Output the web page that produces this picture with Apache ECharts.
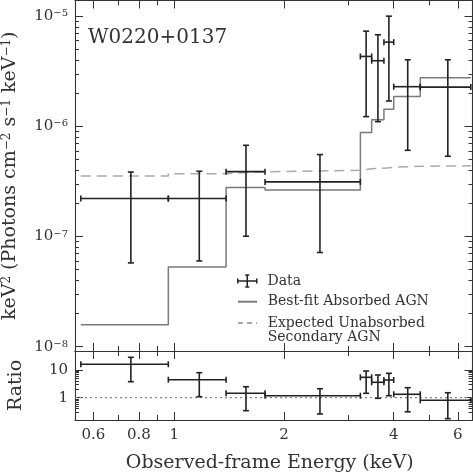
<!DOCTYPE html>
<html><head><meta charset="utf-8">
<script src="https://cdn.jsdelivr.net/npm/echarts@6/dist/echarts.min.js"></script>
<style>html,body{margin:0;padding:0;background:#fff}#c{width:473px;height:474px}</style>
</head><body><div id="c"></div>
<script>
// ---- data (keV, photons cm^-2 s^-1 keV^-1 * keV^2) ----
const binLo   = [0.554, 0.963, 1.387, 1.774, 3.24, 3.48, 3.76, 4.00, 4.73];
const binHi   = [0.963, 1.387, 1.774, 3.24, 3.48, 3.76, 4.00, 4.73, 6.51];
const energy  = [0.760, 1.171, 1.573, 2.51, 3.36, 3.62, 3.88, 4.37, 5.63];
const flux    = [2.21e-7, 2.21e-7, 3.88e-7, 3.13e-7, 4.31e-6, 3.94e-6, 5.81e-6, 2.29e-6, 2.27e-6];
const fluxLo  = [5.76e-8, 6.0e-8, 1.006e-7, 7.16e-8, 1.225e-6, 1.103e-6, 1.70e-6, 6.06e-7, 5.35e-7];
const fluxHi  = [3.85e-7, 3.91e-7, 6.73e-7, 5.54e-7, 7.31e-6, 6.78e-6, 1.0e-5, 4.02e-6, 4.02e-6];
const model   = [1.58e-8, 5.30e-8, 2.78e-7, 2.65e-7, 8.77e-7, 1.15e-6, 1.43e-6, 1.87e-6, 2.76e-6];
const unabs   = [3.54e-7, 3.72e-7, 3.87e-7, 3.99e-7, 4.12e-7, 4.16e-7, 4.25e-7, 4.34e-7, 4.38e-7];
const ratio   = [16.1, 4.47, 1.44, 1.18, 5.45, 3.6, 4.35, 1.33, 0.805];
const ratioLo = [3.78, 1.087, 0.34, 0.258, 1.44, 0.95, 1.18, 0.31, 0.175];
const ratioHi = [28.7, 7.99, 2.49, 2.11, 9.2, 6.6, 7.6, 2.3, 1.51];
const xLabelVals = [0.6, 0.8, 1, 2, 4, 6];
const xMinorVals = [0.7, 0.9, 3, 5];
const fluxDecades = [-8, -7, -6, -5];
const ratioLabelVals = [1, 10];
const xRange = [0.534, 6.58];
const fluxRange = [9.14e-9, 1.387e-5];
const ratioRange = [0.1567, 48.5];

const L = Math.log10;
const FONT = 'DejaVu Serif';
const TXT = '#333';
const AX = '#333';

function minorLogs(lo, hi) {
  const out = [];
  for (let n = Math.floor(L(lo)) - 1; n <= Math.ceil(L(hi)); n++)
    for (let k = 2; k <= 9; k++) { const v = L(k) + n; if (v > L(lo) && v < L(hi)) out.push(v); }
  return out;
}
const fluxMinor = minorLogs(fluxRange[0], fluxRange[1]);
const ratioMinor = minorLogs(0.2, 9.5).filter(v => v <= 1);

function steps(lo, hi, v) {
  const out = [];
  for (let i = 0; i < v.length; i++) { out.push([L(lo[i]), L(v[i])]); out.push([L(hi[i]), L(v[i])]); }
  return out;
}
function errData(c, v, lo, hi) {
  return c.map((e, i) => [L(e), L(v[i]), L(lo[i]), L(hi[i]), L(binLo[i]), L(binHi[i])]);
}
function errRender(params, api) {
  const x = api.value(0), y = api.value(1);
  const c = api.coord([x, y]);
  const top = api.coord([x, api.value(3)]);
  const bot = api.coord([x, api.value(2)]);
  const left = api.coord([api.value(4), y]);
  const right = api.coord([api.value(5), y]);
  const cap = 3;
  const seg = (x1, y1, x2, y2) => ({type: 'line', shape: {x1, y1, x2, y2}, style: {stroke: '#222', lineWidth: 1.6}});
  return {type: 'group', children: [
    seg(left[0], c[1], right[0], c[1]),
    seg(c[0], top[1], c[0], bot[1]),
    seg(c[0] - cap, top[1], c[0] + cap, top[1]),
    seg(c[0] - cap, bot[1], c[0] + cap, bot[1]),
    seg(left[0], c[1] - cap, left[0], c[1] + cap),
    seg(right[0], c[1] - cap, right[0], c[1] + cap)
  ]};
}

const xLog = [L(xRange[0]), L(xRange[1])];
function nearestLabel(v, list) {
  let best = list[0];
  list.forEach(t => { if (Math.abs(L(t) - v) < Math.abs(L(best) - v)) best = t; });
  return String(best);
}
function xAxis(grid, pos, major, showLabel, name) {
  const vals = (major ? xLabelVals : xMinorVals).map(L);
  const a = {
    type: 'value', gridIndex: grid, position: pos, min: xLog[0], max: xLog[1],
    axisLine: {show: major, onZero: false, lineStyle: {color: AX, width: 1.1}},
    axisTick: {show: true, inside: true, length: major ? 8 : 5, customValues: vals, lineStyle: {color: AX, width: 1}},
    axisLabel: {show: showLabel, customValues: vals, margin: 8, fontFamily: FONT, fontSize: 15, color: TXT,
      formatter: v => nearestLabel(v, xLabelVals)},
    splitLine: {show: false}
  };
  if (name) {
    a.name = name; a.nameLocation = 'middle'; a.nameGap = 34;
    a.nameTextStyle = {fontFamily: FONT, fontSize: 19, color: TXT, padding: [0, 8, 0, 0]};
  }
  return a;
}
const fluxLog = [L(fluxRange[0]), L(fluxRange[1])];
const ratioLog = [L(ratioRange[0]), L(ratioRange[1])];
function yAxis(grid, pos, major, showLabel, range, majorVals, minorVals, fmt, name, nameGap) {
  const vals = major ? majorVals : minorVals;
  const a = {
    type: 'value', gridIndex: grid, position: pos, min: range[0], max: range[1],
    axisLine: {show: major, onZero: false, lineStyle: {color: AX, width: 1.1}},
    axisTick: {show: true, inside: true, length: major ? 8 : 4, customValues: vals, lineStyle: {color: AX, width: 1}},
    axisLabel: {show: showLabel, customValues: vals, margin: 7, formatter: fmt,
      fontFamily: FONT, fontSize: 15, color: TXT,
      rich: {b: {fontFamily: FONT, fontSize: 15, color: TXT}, s: {fontFamily: FONT, fontSize: 10, color: TXT, verticalAlign: 'top'}}},
    splitLine: {show: false}
  };
  if (name) {
    a.name = name; a.nameLocation = 'middle'; a.nameGap = nameGap;
    a.nameTextStyle = {fontFamily: FONT, fontSize: 19, color: TXT,
      rich: {n: {fontFamily: FONT, fontSize: 19, color: TXT}, s: {fontFamily: FONT, fontSize: 12, color: TXT, verticalAlign: 'top'}}};
  }
  return a;
}
const fluxFmt = v => '{b|10}{s|\u2212' + Math.abs(Math.round(v)) + '}';
const ratioFmt = v => nearestLabel(v, ratioLabelVals);
const yName = '{n|keV}{s|2}{n| (Photons cm}{s|\u22122}{n| s}{s|\u22121}{n| keV}{s|\u22121}{n|)}';

const legTxt = {fontFamily: FONT, fontSize: 14, color: TXT, padding: [0, 0, 0, 5.7]};
const noSym = {color: 'rgba(0,0,0,0)', borderWidth: 0};

const chart = echarts.init(document.getElementById('c'), null, {renderer: 'canvas'});
chart.setOption({
  animation: false,
  backgroundColor: '#fff',
  title: {text: 'W0220+0137', left: 88, top: 28, padding: 0,
    textStyle: {fontFamily: FONT, fontSize: 20, fontWeight: 'normal', color: TXT}},
  grid: [
    {left: 75, width: 397.5, top: 0.5, height: 350.5, containLabel: false, outerBoundsMode: 'none'},
    {left: 75, width: 397.5, top: 351, height: 69, containLabel: false, outerBoundsMode: 'none'}
  ],
  xAxis: [
    xAxis(0, 'bottom', true, false), xAxis(0, 'bottom', false, false),
    xAxis(0, 'top', true, false), xAxis(0, 'top', false, false),
    xAxis(1, 'bottom', true, true, 'Observed-frame Energy (keV)'), xAxis(1, 'bottom', false, false),
    xAxis(1, 'top', true, false), xAxis(1, 'top', false, false)
  ],
  yAxis: [
    yAxis(0, 'left', true, true, fluxLog, fluxDecades, fluxMinor, fluxFmt, yName, 55),
    yAxis(0, 'left', false, false, fluxLog, fluxDecades, fluxMinor),
    yAxis(0, 'right', true, false, fluxLog, fluxDecades, fluxMinor),
    yAxis(0, 'right', false, false, fluxLog, fluxDecades, fluxMinor),
    yAxis(1, 'left', true, true, ratioLog, ratioLabelVals.map(L), ratioMinor, ratioFmt, 'Ratio', 49),
    yAxis(1, 'left', false, false, ratioLog, ratioLabelVals.map(L), ratioMinor),
    yAxis(1, 'right', true, false, ratioLog, ratioLabelVals.map(L), ratioMinor),
    yAxis(1, 'right', false, false, ratioLog, ratioLabelVals.map(L), ratioMinor)
  ],
  legend: [
    {left: 237, top: 274, padding: 0, itemWidth: 19, itemHeight: 14, selectedMode: false, textStyle: legTxt,
      data: [{name: 'Data', icon: 'path://M0,7L19,7M9.5,1L9.5,13M0,4.5L0,9.5M19,4.5L19,9.5M7.5,1L11.5,1M7.5,13L11.5,13',
        itemStyle: {color: 'rgba(0,0,0,0)', borderColor: '#222', borderWidth: 1.5}}]},
    {left: 237, top: 294.7, padding: 0, itemWidth: 19, itemHeight: 14, selectedMode: false, textStyle: legTxt,
      data: [{name: 'Best-fit Absorbed AGN', itemStyle: noSym}]},
    {left: 237, top: 301.3, padding: 0, itemWidth: 19, itemHeight: 14, selectedMode: false,
      textStyle: Object.assign({}, legTxt, {lineHeight: 14.4}),
      formatter: n => ' \n' + n,
      data: [{name: 'Expected Unabsorbed\nSecondary AGN', itemStyle: noSym, lineStyle: {type: [5, 4]}}]}
  ],
  series: [
    {name: 'Best-fit Absorbed AGN', type: 'line', xAxisIndex: 0, yAxisIndex: 0, symbol: 'none',
      data: steps(binLo, binHi, model), lineStyle: {color: '#7a7a7a', width: 1.5}, itemStyle: {color: '#7a7a7a'}, z: 2},
    {name: 'Expected Unabsorbed\nSecondary AGN', type: 'line', xAxisIndex: 0, yAxisIndex: 0, symbol: 'none',
      data: steps(binLo, binHi, unabs), lineStyle: {color: '#aaaaaa', width: 1.5, type: [10, 6]}, itemStyle: {color: '#aaaaaa'}, z: 2},
    {name: 'Data', type: 'custom', xAxisIndex: 0, yAxisIndex: 0, renderItem: errRender,
      encode: {x: 0, y: 1}, data: errData(energy, flux, fluxLo, fluxHi), z: 3},
    {name: 'unity', type: 'line', xAxisIndex: 4, yAxisIndex: 4, symbol: 'none',
      data: [[xLog[0], 0], [xLog[1], 0]], lineStyle: {color: '#888', width: 1.2, type: [2, 3]}, z: 2},
    {name: 'Ratio data', type: 'custom', xAxisIndex: 4, yAxisIndex: 4, renderItem: errRender,
      encode: {x: 0, y: 1}, data: errData(energy, ratio, ratioLo, ratioHi), z: 3}
  ]
});
</script></body></html>
